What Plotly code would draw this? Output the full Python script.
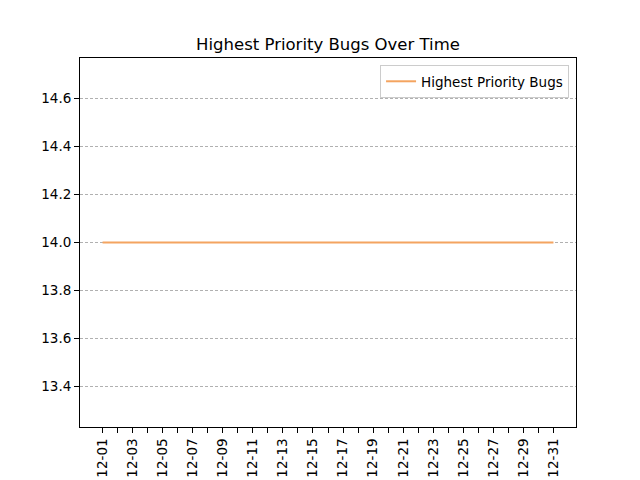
import plotly.graph_objects as go
import pandas as pd

dates = pd.date_range("2023-12-01", "2023-12-31", freq="D")
values = [14] * len(dates)
tick_vals = list(dates)
tick_text = [d.strftime("%m-%d") if (d.day % 2 == 1) else "" for d in dates]
y_ticks = [13.4, 13.6, 13.8, 14.0, 14.2, 14.4, 14.6]

fig = go.Figure()
fig.add_trace(go.Scatter(x=dates, y=values, mode="lines", name="Highest Priority Bugs",
                         line=dict(color="#f4a460", width=2)))

font = "DejaVu Sans"
W, H = 632, 472
fig.update_layout(
    width=W, height=H,
    margin=dict(l=72, r=64, t=50, b=53, autoexpand=False),
    paper_bgcolor="white", plot_bgcolor="white",
    font=dict(family=font, size=13.5, color="black"),
    title=dict(text="Highest Priority Bugs Over Time", x=(72 + 568) / 2 / W, xanchor="center",
               y=1 - 36 / H, yanchor="middle", yref="container",
               font=dict(family=font, size=16.5, color="black")),
    showlegend=True,
    legend=dict(x=0.986, y=0.981, xanchor="right", yanchor="top", bgcolor="white",
                bordercolor="#cccccc", borderwidth=1, font=dict(family=font, size=13.5)),
)
fig.update_xaxes(
    type="date",
    range=["2023-11-29 12:00", "2024-01-01 12:00"],
    tickmode="array", tickvals=tick_vals, ticktext=tick_text, tickangle=-90,
    showgrid=False, zeroline=False, automargin=False,
    showline=True, linecolor="black", linewidth=1, mirror=True,
    ticks="outside", ticklen=5, tickcolor="black",
)
fig.update_yaxes(
    range=[13.23, 14.77],
    tickmode="array", tickvals=y_ticks, tickformat=".1f",
    showgrid=True, gridcolor="#b0b0b0", griddash="3px,2px", gridwidth=0.8,
    zeroline=False, automargin=False,
    showline=True, linecolor="black", linewidth=1, mirror=True,
    ticks="outside", ticklen=5, tickcolor="black",
)
fig.write_html("out.html")
